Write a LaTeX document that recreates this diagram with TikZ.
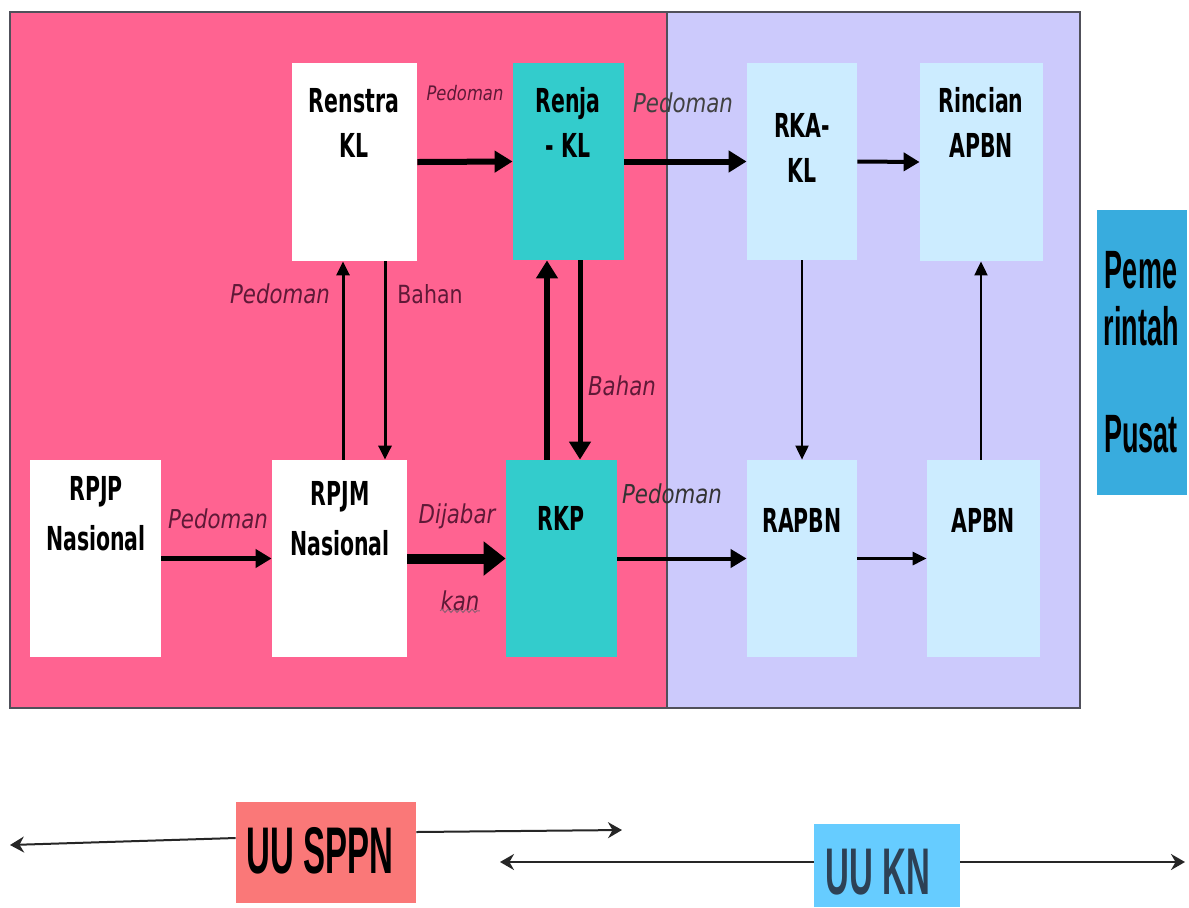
\documentclass[tikz,border=0pt]{standalone}
\usepackage{fontspec}
\setmainfont{DejaVu Sans}
\newfontfamily\boxf[FakeStretch=0.62]{DejaVu Sans}
\newfontfamily\labf[FakeStretch=0.82]{DejaVu Sans}
\newfontfamily\narf[FakeStretch=0.5]{Liberation Sans}
\usetikzlibrary{arrows.meta,fit,decorations.pathmorphing}
\definecolor{pinkbg}{RGB}{255,99,145}
\definecolor{lavbg}{RGB}{204,202,252}
\definecolor{tealbox}{RGB}{51,204,204}
\definecolor{ltblue}{RGB}{204,236,255}
\definecolor{pembox}{RGB}{56,172,222}
\definecolor{sppnbox}{RGB}{250,120,120}
\definecolor{knbox}{RGB}{102,204,255}
\definecolor{labcol}{RGB}{95,25,55}
\definecolor{frame}{RGB}{80,80,90}
\definecolor{kntext}{RGB}{45,65,85}
\begin{document}
\begin{tikzpicture}[x=0.5pt,y=-0.5pt,
  boxw/.style={fill=white,inner sep=0pt,draw=none},
  boxt/.style={fill=tealbox,inner sep=0pt,draw=none},
  boxl/.style={fill=ltblue,inner sep=0pt,draw=none},
  btxt/.style={anchor=base,inner sep=0pt,font=\boxf\bfseries\fontsize{16.5}{20}\selectfont},
  ltxt/.style={anchor=base,inner sep=0pt,text=labcol,font=\labf\itshape\fontsize{13}{16}\selectfont},
  arrXL/.style={line width=5pt,-{Triangle[length=11pt,width=16.5pt]}},
  arrT/.style={line width=3pt,-{Triangle[length=9pt,width=10.5pt]}},
  arrM/.style={line width=2pt,-{Triangle[length=8pt,width=9pt]}},
  arrS/.style={line width=1pt,-{Triangle[length=7pt,width=6.5pt]}},
  uuarr/.style={line width=1pt,draw=black!85,-{Stealth[length=7pt,width=8pt]}},
]
\useasboundingbox (0,0) rectangle (1189,907);
\fill[white] (0,0) rectangle (1189,907);
% backgrounds
\draw[fill=pinkbg,draw=frame,line width=1pt] (10,12) rectangle (667,708);
\draw[fill=lavbg,draw=frame,line width=1pt] (667,12) rectangle (1080,708);
% boxes
\node[boxw,fit={(292,63) (417,261)}] (rens) {};
\node[boxt,fit={(513,63) (624,260)}] (renja) {};
\node[boxl,fit={(747,63) (857,260)}] (rka) {};
\node[boxl,fit={(920,63) (1043,261)}] (rinc) {};
\node[boxw,fit={(30,460) (161,657)}] (rpjp) {};
\node[boxw,fit={(272,460) (407,657)}] (rpjm) {};
\node[boxt,fit={(506,460) (617,657)}] (rkp) {};
\node[boxl,fit={(747,460) (857,657)}] (rapbn) {};
\node[boxl,fit={(927,460) (1040,657)}] (apbn) {};
\node[fill=pembox,inner sep=0pt,fit={(1097,210) (1187,495)}] (pem) {};
% box texts
\node[btxt] (t1a) at (354,112) {Renstra};
\node[btxt] (t1b) at (354,157) {KL};
\node[btxt] (t2a) at (568,112) {Renja};
\node[btxt] (t2b) at (568,157) {- KL};
\node[btxt] (t3a) at (802,137) {RKA-};
\node[btxt] (t3b) at (802,182) {KL};
\node[btxt] (t4a) at (981,112) {Rincian};
\node[btxt] (t4b) at (981,157) {APBN};
\node[btxt] (t5a) at (96,500) {RPJP};
\node[btxt] (t5b) at (96,550) {Nasional};
\node[btxt] (t6a) at (340,505) {RPJM};
\node[btxt] (t6b) at (340,555) {Nasional};
\node[btxt] (t7) at (561,530) {RKP};
\node[btxt] (t8) at (802,532) {RAPBN};
\node[btxt] (t9) at (983,532) {APBN};
\node[anchor=base,inner sep=0pt,font=\narf\bfseries\fontsize{27}{30}\selectfont] (p1) at (1141,288) {Peme};
\node[anchor=base,inner sep=0pt,font=\narf\bfseries\fontsize{27}{30}\selectfont] (p2) at (1141,345) {rintah};
\node[anchor=base,inner sep=0pt,font=\narf\bfseries\fontsize{27}{30}\selectfont] (p3) at (1141,452) {Pusat};
% horizontal arrows
\draw[arrT] (rens.east) -- (renja.west);
\draw[arrT] (renja.east) -- (rka.west);
\draw[arrM] (rka.east) -- (rinc.west);
\draw[arrM,line width=2.5pt] (rpjp.east) -- (rpjm.west);
\draw[arrXL] (rpjm.east) -- (rkp.west);
\draw[arrM] (rkp.east) -- (rapbn.west);
\draw[arrS,line width=1.5pt] (rapbn.east) -- (apbn.west);
% vertical arrows
\draw[arrS,line width=1.5pt] ([xshift=1.75pt]rpjm.north) -- ([xshift=1.75pt]rpjm.north |- rens.south);
\draw[arrS,line width=1.5pt] ([xshift=15.25pt]rens.south) -- ([xshift=15.25pt]rens.south |- rpjm.north);
\draw[arrT] ([xshift=-7.25pt]rkp.north) -- ([xshift=-7.25pt]rkp.north |- renja.south);
\draw[arrT,line width=2.5pt] ([xshift=5.75pt]renja.south) -- ([xshift=5.75pt]renja.south |- rkp.north);
\draw[arrS] (rka.south) -- (rapbn.north);
\draw[arrS] ([xshift=-1.25pt]apbn.north) -- ([xshift=-1.25pt]apbn.north |- rinc.south);
% labels
\node[ltxt,font=\labf\itshape\fontsize{10}{12}\selectfont] (l1) at (465,100) {Pedoman};
\node[ltxt,text=black!75] (l2) at (683,112) {Pedoman};
\node[ltxt] (l3) at (280,303) {Pedoman};
\node[ltxt,font=\labf\fontsize{12.5}{15}\selectfont] (l4) at (430,303) {Bahan};
\node[ltxt] (l5) at (622,395) {Bahan};
\node[ltxt] (l6) at (218,528) {Pedoman};
\node[ltxt] (l7) at (457,523) {Dijabar};
\node[ltxt] (l8) at (460,610) {kan};
\node[ltxt,text=black!80] (l9) at (672,503) {Pedoman};
\draw[labcol!70,line width=0.5pt,decorate,decoration={snake,amplitude=0.8pt,segment length=3pt}] (l8.south west) -- (l8.south east);
% bottom
\node[fill=sppnbox,inner sep=0pt,fit={(236,802) (416,903)}] (sppn) {};
\node[anchor=base,inner sep=0pt,font=\narf\bfseries\fontsize{33}{40}\selectfont] (sppnt) at (320,873) {UU SPPN};
\node[fill=knbox,inner sep=0pt,fit={(814,824) (960,907)}] (kn) {};
\node[anchor=base,inner sep=0pt,text=kntext,font=\narf\bfseries\fontsize{33}{40}\selectfont] (knt) at (878,894) {UU KN};
\coordinate (sL) at (10,845);
\coordinate (sR) at (622,830);
\coordinate (kL) at (500,862);
\coordinate (kR) at (1185,862);
\draw[uuarr] ([yshift=7.25pt]sppn.west) -- (sL);
\draw[uuarr] ([yshift=10.25pt]sppn.east) -- (sR);
\draw[uuarr] ([yshift=1.75pt]kn.west) -- (kL);
\draw[uuarr] ([yshift=1.75pt]kn.east) -- (kR);
\end{tikzpicture}
\end{document}
